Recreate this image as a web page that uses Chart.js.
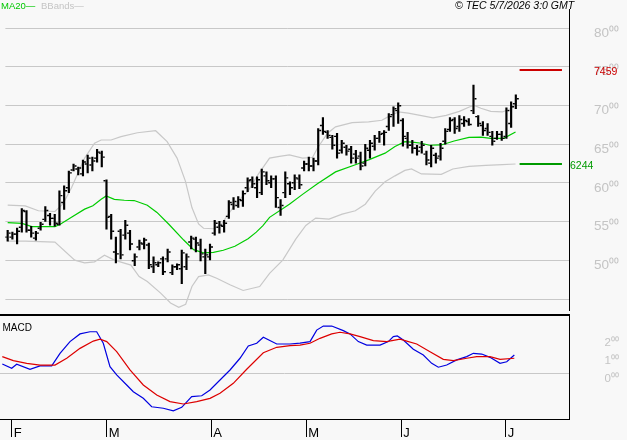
<!DOCTYPE html>
<html><head><meta charset="utf-8">
<script src="https://cdn.jsdelivr.net/npm/chart.js@4.4.1/dist/chart.umd.min.js"></script>
<style>
html,body{margin:0;padding:0;background:#f8f8f8;width:627px;height:440px;overflow:hidden}
#wrapA{position:absolute;left:0;top:0;width:627px;height:316px}
#wrapB{position:absolute;left:0;top:305px;width:627px;height:135px}
canvas{display:block}
</style></head><body>
<div id="wrapA"><canvas id="main" width="627" height="316"></canvas></div>
<div id="wrapB"><canvas id="macd" width="627" height="135"></canvas></div>
<script>
// ---- categories / ticks ----
const monthTickIdx = [2, 22, 44, 64, 84, 106];
const monthLabels = ['F', 'M', 'A', 'M', 'J', 'J'];
const priceTicks = [45, 50, 55, 60, 65, 70, 75, 80];
const priceTickLabels = ['', '50⁰⁰', '55⁰⁰', '60⁰⁰', '65⁰⁰', '70⁰⁰', '75⁰⁰', '80⁰⁰'];
const macdTicks = [0, 1, 2];
const macdTickLabels = ['0⁰⁰', '1⁰⁰', '2⁰⁰'];

// ---- daily OHLC (bar index 0..108) ----
const openP = [53.00,53.00,53.38,54.27,56.31,53.89,52.87,54.15,55.29,55.80,
55.42,54.66,57.46,59.38,61.67,61.80,61.16,62.44,62.31,63.20,
63.84,60.27,55.68,51.08,53.76,53.25,53.51,49.94,51.72,52.11,
51.98,49.17,49.43,50.19,50.19,48.41,49.17,48.92,49.17,52.36,
52.74,51.98,50.45,50.45,53.51,54.27,54.40,55.68,57.21,57.08,
57.72,59.38,60.40,59.38,58.74,60.91,60.01,60.52,56.82,58.74,
59.89,60.01,60.52,61.93,62.44,62.18,62.82,67.41,66.52,65.88,
66.01,64.22,64.61,64.35,63.71,63.46,62.56,64.22,64.73,65.75,
66.39,67.28,68.82,69.33,68.05,65.75,64.86,64.48,64.61,63.71,
62.56,63.58,63.46,65.37,66.90,68.18,67.28,67.67,67.92,69.33,
68.56,67.41,67.03,66.01,65.75,66.26,66.01,67.67,70.22];
const highP = [53.89,53.64,54.15,56.70,56.44,54.40,53.76,54.91,56.95,56.06,
55.93,58.99,59.63,61.54,62.44,62.05,62.95,63.58,63.33,64.35,
64.10,60.40,55.93,53.00,54.02,55.17,53.89,50.83,52.62,52.87,
52.23,50.45,49.81,50.45,51.47,49.43,49.55,51.34,50.83,53.13,
53.00,52.74,51.47,52.11,55.17,55.04,55.17,57.72,58.10,58.23,
58.99,60.65,60.78,60.78,61.80,61.42,60.91,60.91,57.84,61.42,
60.14,61.03,61.03,62.82,63.33,63.20,67.03,68.43,66.77,66.14,
66.39,65.50,64.86,64.73,64.22,63.97,64.99,65.50,66.14,66.65,
66.77,68.94,69.83,70.35,68.30,66.52,65.50,64.86,65.37,64.10,
64.86,63.84,65.12,67.03,68.43,68.43,68.69,68.56,68.30,72.64,
68.69,67.92,67.67,66.65,66.65,66.65,69.71,70.47,71.37];
const lowP = [52.49,52.74,52.11,53.64,53.64,53.00,52.62,53.89,55.04,54.53,
54.40,54.53,56.57,58.74,61.54,61.03,60.91,61.29,61.54,62.69,
62.05,54.02,52.74,49.68,50.19,52.74,51.34,49.30,51.34,51.47,
48.92,48.41,49.17,48.15,49.81,48.15,48.79,47.00,48.79,51.47,
51.08,49.94,48.28,50.07,53.25,53.51,53.64,55.42,56.57,56.82,
56.95,58.87,59.38,58.10,58.48,59.76,59.38,56.82,55.80,58.10,
58.48,59.12,59.25,61.54,61.54,61.54,62.31,66.26,65.75,64.35,
63.20,63.84,63.58,62.56,62.56,61.67,62.18,63.20,64.22,65.24,
64.86,66.77,67.28,67.67,64.73,64.48,63.84,63.58,63.84,62.31,
62.05,62.56,62.95,64.99,66.65,66.39,66.65,67.28,67.41,68.94,
67.28,66.14,66.14,64.86,65.63,65.50,65.75,67.16,69.58];
const closeP = [53.51,53.38,53.76,56.44,53.89,53.51,53.51,54.66,56.44,55.42,
54.78,58.36,58.99,61.29,62.18,61.93,62.69,63.20,62.82,63.97,
63.33,55.55,53.76,50.83,50.70,54.53,52.11,50.45,52.23,52.62,
49.43,49.68,49.68,48.53,51.08,49.17,49.43,50.96,50.45,52.87,
52.23,50.83,50.70,51.72,54.78,54.53,54.78,57.46,57.59,57.84,
58.61,60.27,59.89,60.40,61.42,60.27,60.52,58.10,57.08,60.65,
59.38,60.65,59.76,62.44,62.18,62.82,66.77,66.65,66.14,64.86,
63.84,65.12,64.10,63.20,63.20,62.18,64.48,65.12,65.75,66.26,
66.52,68.56,69.58,69.96,66.01,64.86,64.48,64.10,64.86,62.95,
64.48,63.20,64.48,66.65,68.05,67.03,68.18,68.05,67.54,70.86,
67.67,66.77,66.52,65.37,66.26,65.75,69.33,69.83,70.86];

// ---- MA20 (at bar positions) ----
const maIdx = [0,3.03,5.14,7.94,10.04,11.09,13.56,16.36,18.11,19.87,20.93,22.67,24.78,26.88,29.68,31.73,34.25,37.41,39.52,41.62,43.73,45.83,48.29,51.09,52.84,54.25,55.66,59.87,62.67,65.83,69.68,73.89,76.72,80.21,82.32,84.42,86.46,87.94,89.62,92.15,94.88,98.04,100.57,102.67,105.41,107.94];
const maVal = [54.87,54.78,54.36,54.36,54.36,54.62,55.55,56.61,57.04,57.88,58.32,57.88,57.76,57.72,57.12,56.19,54.66,52.62,51.38,50.96,51.02,51.30,51.81,52.78,53.64,54.49,55.55,57.25,58.52,59.89,61.42,62.35,62.98,63.84,64.69,65.33,65.24,65.12,64.86,64.90,65.41,65.88,65.92,65.75,65.75,66.58];

// ---- Bollinger bands ----
const ubIdx = [0,3.73,6.53,10.04,11.79,13.56,16.36,18.46,19.87,21.98,24.08,27.58,31.45,33.89,36.0,37.77,39.16,40.57,41.62,43.73,45.47,46.88,48.99,51.09,53.2,55.66,57.77,59.87,62.67,64.78,65.83,67.94,69.68,73.2,76.72,79.52,80.93,83.03,85.14,87.94,90.4,93.2,96.0,98.11,99.16,100.57,102.67,105.14,106.88,107.94];
const ubVal = [57.14,57.04,56.40,56.31,57.33,59.38,63.20,65.12,65.54,65.54,65.97,66.48,66.74,65.33,63.20,60.23,56.82,54.70,54.14,54.08,54.70,55.97,57.68,58.95,61.07,63.20,63.42,63.62,63.20,63.29,64.48,66.39,67.24,67.79,67.88,68.09,68.56,69.16,69.01,68.69,68.39,68.73,69.24,69.80,70.00,69.64,69.23,69.16,69.58,70.09];
const lbIdx = [0,3.73,10.04,14.25,16.36,18.46,20.57,22.67,26.19,27.94,29.68,32.51,34.61,36.36,37.83,39.16,40.57,42.67,44.42,47.24,50.04,53.56,55.66,58.46,61.26,63.37,65.47,68.29,71.09,73.89,76.0,78.11,80.21,82.32,84.42,85.83,87.94,92.15,94.61,98.04,101.62,105.14,107.94];
const lbVal = [52.49,52.49,52.36,50.03,49.68,49.81,50.66,50.03,49.39,47.90,47.26,45.77,44.49,43.94,44.33,46.62,47.90,48.11,47.68,46.84,46.11,46.62,48.32,50.03,52.78,54.50,55.46,55.33,55.97,56.40,57.25,58.95,60.14,60.91,61.61,61.80,61.16,61.10,61.80,62.14,62.27,62.35,62.44];

// ---- MACD / signal ----
const macdIdx = [0,1.98,3.03,5.83,7.94,10.4,12.15,14.25,16.36,18.46,19.87,21.26,22.67,24.08,26.19,27.58,29.68,31.45,33.89,36.0,37.77,39.87,41.98,43.73,45.83,47.94,50.04,51.79,53.56,54.95,57.77,60.57,62.67,64.78,66.19,67.58,69.35,71.79,73.2,74.95,76.72,79.52,81.26,82.32,83.16,84.42,86.53,88.63,90.4,91.79,93.56,95.66,97.77,99.16,100.93,102.67,104.78,106.19,107.79];
const macdVal = [0.55,0.31,0.53,0.25,0.44,0.44,1.13,1.77,2.19,2.31,2.31,1.68,0.40,-0.05,-0.60,-0.97,-1.33,-1.79,-1.87,-2.01,-1.82,-1.24,-1.19,-0.87,-0.33,0.22,0.86,1.53,1.68,2.01,1.64,1.64,1.69,1.77,2.40,2.62,2.62,2.37,2.19,1.77,1.58,1.58,1.77,2.04,2.08,1.86,1.35,1.04,0.58,0.37,0.49,0.77,0.95,1.13,1.09,0.91,0.58,0.67,1.04];
const sigIdx = [0,2.32,5.14,7.94,11.09,13.56,16.36,19.16,20.57,21.98,24.08,26.88,29.68,32.51,35.31,38.11,40.93,43.73,45.83,48.63,51.45,54.95,57.77,60.57,62.67,64.78,66.88,69.35,71.09,73.2,75.31,78.11,80.93,83.73,85.14,87.24,90.04,92.84,94.95,97.77,99.87,102.67,104.78,107.79];
const sigVal = [0.95,0.73,0.58,0.49,0.49,0.86,1.40,1.80,1.90,1.77,1.22,0.22,-0.60,-1.15,-1.51,-1.64,-1.51,-1.33,-1.05,-0.51,0.26,1.16,1.46,1.55,1.58,1.68,1.95,2.19,2.28,2.19,2.04,1.82,1.77,1.90,1.80,1.64,1.22,0.80,0.73,0.86,0.95,0.95,0.80,0.86];

// ---- level annotations ----
const levelHigh = 74.59;
const levelLow = 62.44;

// ================= rendering =================
const X_MIN = -0.484, X_MAX = 119.3;
const LEVEL_SPAN = [108.8, 117.8];
const TICK_OFF = 0.42;
const GRID = '#c8c8c8';
const FONT = 'Liberation Sans, Arial, sans-serif';
const pts = (xs, ys) => xs.map((x, k) => ({x: x, y: ys[k]}));
const fmtLevel = v => v.toFixed(2).replace('.', '');
const noPad = s => { s.paddingTop = 0; s.paddingBottom = 0; s.paddingLeft = 0; s.paddingRight = 0; };

const mainText = {
  id: 'mainText',
  afterDraw(chart) {
    const ctx = chart.ctx, y = chart.scales.y;
    ctx.save();
    ctx.textBaseline = 'alphabetic';
    ctx.textAlign = 'left';
    ctx.font = '9.5px ' + FONT;
    ctx.fillStyle = '#00c800';
    ctx.fillText('MA20\u2014', 1, 8.5);
    ctx.fillStyle = '#c4c4c4';
    ctx.fillText('BBands\u2014', 41, 8.5);
    ctx.font = 'italic 10.5px ' + FONT;
    ctx.fillStyle = '#000';
    ctx.fillText('\u00a9 TEC 5/7/2026 3:0 GMT', 455, 8.5);
    ctx.font = '10.5px ' + FONT;
    ctx.fillStyle = '#cc0000';
    ctx.fillText(fmtLevel(levelHigh), 594, y.getPixelForValue(levelHigh) + 5);
    ctx.fillStyle = '#009a00';
    ctx.fillText(fmtLevel(levelLow), 570, y.getPixelForValue(levelLow) + 5);
    ctx.restore();
  }
};

new Chart(document.getElementById('main'), {
  type: 'bar',
  data: { datasets: [
    { type: 'bar', data: highP.map((h, i) => ({x: i, y: [lowP[i], h]})), backgroundColor: '#000', borderWidth: 0, barThickness: 1.5, order: 2 },
    { type: 'scatter', data: openP.map((v, i) => ({x: i - TICK_OFF, y: v})), pointStyle: 'line', pointRadius: 1.0, borderColor: '#000', backgroundColor: '#000', borderWidth: 1.4, order: 1 },
    { type: 'scatter', data: closeP.map((v, i) => ({x: i + TICK_OFF, y: v})), pointStyle: 'line', pointRadius: 1.0, borderColor: '#000', backgroundColor: '#000', borderWidth: 1.4, order: 1 },
    { type: 'line', data: pts(maIdx, maVal), borderColor: '#00cc00', borderWidth: 1.2, pointRadius: 0, order: 3 },
    { type: 'line', data: pts(ubIdx, ubVal), borderColor: '#c8c8c8', borderWidth: 1.2, pointRadius: 0, order: 4 },
    { type: 'line', data: pts(lbIdx, lbVal), borderColor: '#c8c8c8', borderWidth: 1.2, pointRadius: 0, order: 4 },
    { type: 'line', data: [{x: LEVEL_SPAN[0], y: levelHigh}, {x: LEVEL_SPAN[1], y: levelHigh}], borderColor: '#cc0000', borderWidth: 2, pointRadius: 0, order: 0 },
    { type: 'line', data: [{x: LEVEL_SPAN[0], y: levelLow}, {x: LEVEL_SPAN[1], y: levelLow}], borderColor: '#009a00', borderWidth: 2, pointRadius: 0, order: 0 }
  ]},
  options: {
    responsive: false, animation: false, devicePixelRatio: 1, events: [],
    layout: { padding: { top: 9, bottom: 1, left: 0, right: 8 } },
    plugins: { legend: { display: false }, tooltip: { enabled: false } },
    scales: {
      x: { type: 'linear', display: false, min: X_MIN, max: X_MAX, offset: false },
      y: {
        position: 'right', min: 43.51, max: 82.456,
        afterBuildTicks: s => { s.ticks = priceTicks.map(v => ({value: v})); },
        afterFit: s => { s.width = 50; noPad(s); },
        grid: { color: GRID, lineWidth: 1, drawTicks: false },
        border: { display: true, color: '#000', width: 1 },
        ticks: { color: '#c4c4c4', font: { family: FONT, size: 13.5 }, padding: 4, crossAlign: 'far', labelOffset: 5,
                 callback: (v, i) => priceTickLabels[i] }
      }
    }
  },
  plugins: [mainText]
});

const macdText = {
  id: 'macdText',
  afterDraw(chart) {
    const ctx = chart.ctx;
    ctx.save();
    ctx.font = '10px ' + FONT;
    ctx.fillStyle = '#000';
    ctx.textBaseline = 'alphabetic';
    ctx.fillText('MACD', 2.5, 26);
    ctx.restore();
  }
};

new Chart(document.getElementById('macd'), {
  type: 'line',
  data: { datasets: [
    { data: pts(macdIdx, macdVal), borderColor: '#0000e0', borderWidth: 1.2, pointRadius: 0, order: 1 },
    { data: pts(sigIdx, sigVal), borderColor: '#dd0000', borderWidth: 1.2, pointRadius: 0, order: 0 }
  ]},
  options: {
    responsive: false, animation: false, devicePixelRatio: 1, events: [],
    layout: { padding: { top: 10, bottom: 0, left: 0, right: 8 } },
    plugins: { legend: { display: false }, tooltip: { enabled: false } },
    scales: {
      x: {
        type: 'linear', position: 'bottom', min: X_MIN, max: X_MAX, offset: false,
        afterBuildTicks: s => { s.ticks = monthTickIdx.map(v => ({value: v})); },
        afterFit: s => { s.height = 21; noPad(s); },
        grid: { drawOnChartArea: false, drawTicks: true, tickLength: 18, color: '#000', lineWidth: 1 },
        border: { display: true, color: '#000', width: 1 },
        ticks: { autoSkip: false, maxRotation: 0, align: 'start', labelOffset: 2, padding: -11, color: '#000',
                 font: { family: FONT, size: 13 }, callback: (v, i) => monthLabels[i] }
      },
      xTop: {
        type: 'linear', position: 'top', min: X_MIN, max: X_MAX,
        afterFit: s => { s.height = 0; noPad(s); },
        grid: { drawOnChartArea: false, drawTicks: false },
        border: { display: true, color: '#000', width: 2 },
        ticks: { display: false }
      },
      y: {
        position: 'right', min: -2.459, max: 3.224,
        afterBuildTicks: s => { s.ticks = macdTicks.map(v => ({value: v})); },
        afterFit: s => { s.width = 50; noPad(s); },
        grid: { color: c => (c.tick && c.tick.value === 0) ? GRID : 'rgba(0,0,0,0)', drawTicks: false },
        border: { display: true, color: '#000', width: 1 },
        ticks: { color: '#c4c4c4', font: { family: FONT, size: 11.5 }, padding: 4, crossAlign: 'far', labelOffset: 5,
                 callback: (v, i) => macdTickLabels[i] }
      }
    }
  },
  plugins: [macdText]
});
</script>
</body></html>
